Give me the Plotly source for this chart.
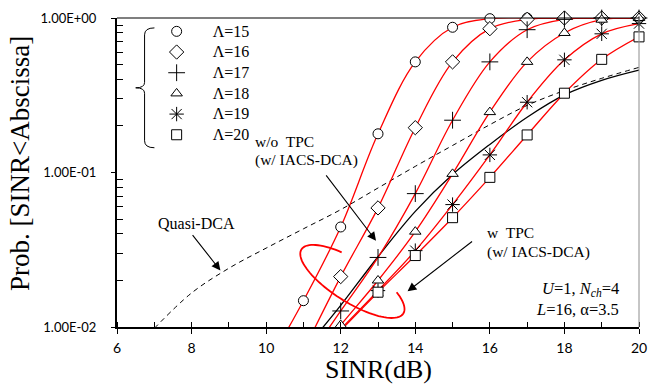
import numpy as np
import plotly.graph_objects as go

# ---------------- data ----------------
lam_names = ["Λ=15", "Λ=16", "Λ=17", "Λ=18", "Λ=19", "Λ=20"]

# marker points (w/ TPC, IACS-DCA)
x15 = [11, 12, 13, 14, 15, 16, 17, 18, 19, 20]
p15 = [0.0148, 0.0444, 0.178, 0.52, 0.871, 0.99, 1.0, 1.0, 1.0, 1.0]
x16 = [12, 13, 14, 15, 16, 17, 18, 19, 20]
p16 = [0.0212, 0.059, 0.195, 0.52, 0.853, 0.98, 1.0, 1.0, 1.0]
x17 = [12, 13, 14, 15, 16, 17, 18, 19, 20]
p17 = [0.0127, 0.0282, 0.073, 0.218, 0.52, 0.84, 0.98, 1.0, 1.0]
x18 = [12, 13, 14, 15, 16, 17, 18, 19, 20]
p18 = [0.0103, 0.020, 0.0414, 0.098, 0.246, 0.52, 0.80, 0.975, 1.0]
x19 = [13, 14, 15, 16, 17, 18, 19, 20]
p19 = [0.0172, 0.0312, 0.062, 0.130, 0.285, 0.536, 0.79, 0.92]
x20 = [13, 14, 15, 16, 17, 18, 19, 20]
p20 = [0.0168, 0.029, 0.051, 0.093, 0.175, 0.326, 0.54, 0.755]

# curve points below the first marker (where each red curve leaves the axis)
x15_ext, p15_ext = [10.0], [0.0055]
x16_ext, p16_ext = [11.0], [0.0070]
x17_ext, p17_ext = [11.0], [0.0057]
x18_ext, p18_ext = [11.0], [0.0052]
x19_ext, p19_ext = [12.0], [0.0097]
x20_ext, p20_ext = [12.0], [0.0095]

# w/o TPC (w/ IACS-DCA), black solid
x_wo = [11.5, 12, 13, 14, 15, 16, 17, 18, 19, 20]
p_wo = [0.0098, 0.0138, 0.0285, 0.056, 0.097, 0.152, 0.228, 0.318, 0.395, 0.46]

# Quasi-DCA, black dashed
x_q = [7, 8, 9, 10, 11, 12, 13, 14, 15, 16, 17, 18, 19, 20]
p_q = [0.0098, 0.0166, 0.024, 0.0324, 0.0432, 0.0575, 0.0794, 0.1096,
       0.1496, 0.204, 0.272, 0.339, 0.407, 0.479]

x_ticks = [6, 8, 10, 12, 14, 16, 18, 20]
y_ticks = [0.01, 0.1, 1.0]
y_ticktext = ["1.00E-02", "1.00E-01", "1.00E+00"]

# ---------------- figure ----------------
W, H = 657, 385
L, R, T, B = 117, 10, 15, 58
PW, PH = W - L - R, H - T - B

def px(X):
    return (X - L) / PW

def py(Y):
    return (H - B - Y) / PH

serif = "Liberation Serif"
sans = "Lato"

series = [
    (x15, p15, x15_ext, p15_ext, dict(symbol="circle", size=10, color="white", line=dict(color="black", width=1))),
    (x16, p16, x16_ext, p16_ext, dict(symbol="diamond", size=11, color="white", line=dict(color="black", width=1))),
    (x17, p17, x17_ext, p17_ext, dict(symbol="cross-thin-open", size=12, color="black", line=dict(color="black", width=1))),
    (x18, p18, x18_ext, p18_ext, dict(symbol="triangle-up", size=10, color="white", line=dict(color="black", width=1))),
    (x19, p19, x19_ext, p19_ext, dict(symbol="asterisk-open", size=12, color="black", line=dict(color="black", width=1))),
    (x20, p20, x20_ext, p20_ext, dict(symbol="square", size=10, color="white", line=dict(color="black", width=1))),
]

fig = go.Figure()

# black reference curves
fig.add_trace(go.Scatter(x=x_q, y=p_q, mode="lines", showlegend=False,
                         line=dict(color="black", width=1, dash="5px,4px", shape="spline")))
fig.add_trace(go.Scatter(x=x_wo, y=p_wo, mode="lines", showlegend=False,
                         line=dict(color="black", width=1.3, shape="spline")))

# red curves
for xs, ps, xe, pe, mk in series:
    fig.add_trace(go.Scatter(x=xe + xs, y=pe + ps, mode="lines", showlegend=False,
                             line=dict(color="#ff0000", width=1.3, shape="spline", smoothing=1)))

# markers (also legend)
for (xs, ps, xe, pe, mk), name in zip(series, lam_names):
    fig.add_trace(go.Scatter(x=xs, y=ps, mode="markers",
                             name=f"<span style='font-size:16px'>{name}</span>",
                             marker=mk, cliponaxis=False))

# ellipse (open arc) around w/ TPC curves
cx, cy, a, b, th = 356, 281, 61, 21, np.deg2rad(32)
t = np.deg2rad(np.linspace(-114, -404, 80))
ex = cx + a * np.cos(t) * np.cos(th) - b * np.sin(t) * np.sin(th)
ey = cy + a * np.cos(t) * np.sin(th) + b * np.sin(t) * np.cos(th)
path = "M " + " L ".join(f"{px(u):.4f},{py(v):.4f}" for u, v in zip(ex, ey))

# curly brace
tip = 136
pts = [(155, 25), (145, 25), (145, 32), (145, 80), (145, 85.5), (tip, 85.5),
       (145, 85.5), (145, 91), (145, 139), (145, 146), (155, 146)]
P = [(px(u), py(v)) for u, v in pts]
brace = (f"M {P[0][0]},{P[0][1]} Q {P[1][0]},{P[1][1]} {P[2][0]},{P[2][1]} "
         f"L {P[3][0]},{P[3][1]} Q {P[4][0]},{P[4][1]} {P[5][0]},{P[5][1]} "
         f"Q {P[6][0]},{P[6][1]} {P[7][0]},{P[7][1]} L {P[8][0]},{P[8][1]} "
         f"Q {P[9][0]},{P[9][1]} {P[10][0]},{P[10][1]}")

shapes = [
    dict(type="path", xref="paper", yref="paper", path=path,
         line=dict(color="#ff0000", width=1.8)),
    dict(type="path", xref="paper", yref="paper", path=brace,
         line=dict(color="black", width=1)),
    dict(type="line", xref="paper", yref="paper", x0=0, x1=1, y0=1, y1=1,
         line=dict(color="black", width=1.2)),
    dict(type="line", xref="paper", yref="paper", x0=1, x1=1, y0=0, y1=1,
         line=dict(color="#8c8c8c", width=1)),
]

txt = dict(family=serif, size=15.5, color="black")
ann = [
    dict(x=px(255), y=py(140), text="w/o\u00a0 TPC", xanchor="left"),
    dict(x=px(255), y=py(158), text="(w/ IACS-DCA)", xanchor="left"),
    dict(x=px(491), y=py(232), text="w\u00a0 TPC", xanchor="left"),
    dict(x=px(491), y=py(251), text="(w/ IACS-DCA)", xanchor="left"),
    dict(x=px(157), y=py(222), text="Quasi-DCA", xanchor="left", font=dict(family=serif, size=16, color="black")),
    dict(x=px(629), y=py(289), text="<i>U</i>=1, <i>N</i><sub><i>ch</i></sub>=4", xanchor="right",
         font=dict(family=serif, size=16.5, color="black")),
    dict(x=px(629), y=py(309), text="<i>L</i>=16, α=3.5", xanchor="right",
         font=dict(family=serif, size=16.5, color="black")),
    dict(x=0.5, y=py(370), text="SINR(dB)", xanchor="center",
         font=dict(family=serif, size=26, color="black")),
    dict(x=px(18), y=py(162), text="Prob. [SINR<Abscissa]", xanchor="center", textangle=-90,
         font=dict(family=serif, size=27, color="black")),
]
annotations = []
for d in ann:
    d.setdefault("font", txt)
    d.update(xref="paper", yref="paper", yanchor="middle", showarrow=False)
    annotations.append(d)

arrows = [((380, 240), (329, 173)), ((412, 291), (478, 240)), ((222, 270), (193, 233))]
for (hx, hy), (tx, ty) in arrows:
    annotations.append(dict(xref="paper", yref="paper", x=px(hx), y=py(hy), text="",
                            showarrow=True, ax=tx - hx, ay=ty - hy, arrowhead=2,
                            arrowsize=1.6, arrowwidth=1.1, arrowcolor="black"))

minor_y = [k * 10.0 ** e for e in (-2, -1) for k in range(2, 10)]

fig.update_layout(
    width=W, height=H,
    margin=dict(l=L, r=R, t=T, b=B, pad=0),
    paper_bgcolor="white", plot_bgcolor="white",
    shapes=shapes, annotations=annotations,
    showlegend=True,
    legend=dict(x=px(141), y=py(13), xanchor="left", yanchor="top",
                font=dict(family=serif, size=13.6, color="black"),
                bgcolor="rgba(0,0,0,0)", borderwidth=0, tracegroupgap=0,
                itemwidth=62),
    xaxis=dict(range=[6, 20], tickvals=x_ticks, ticks="outside", ticklen=5, tickwidth=1,
               tickcolor="black", showline=True, linecolor="black", linewidth=2,
               showgrid=False, zeroline=False, ticklabelstandoff=2,
               tickfont=dict(family=sans, size=14, color="black"),
               minor=dict(dtick=1, ticks="inside", ticklen=5, tickcolor="black", showgrid=False)),
    yaxis=dict(type="log", range=[-2, 0], tickvals=y_ticks, ticktext=y_ticktext,
               ticks="outside", ticklen=4, tickcolor="black", showline=True,
               linecolor="black", linewidth=2, showgrid=False, zeroline=False,
               ticklabelstandoff=12,
               tickfont=dict(family=sans, size=13, color="black"),
               minor=dict(tickvals=minor_y, ticks="inside", ticklen=6, tickcolor="black",
                          showgrid=False)),
)

fig.write_html("out.html", config={"displayModeBar": False},
               post_script="document.body.style.margin='0px';")
